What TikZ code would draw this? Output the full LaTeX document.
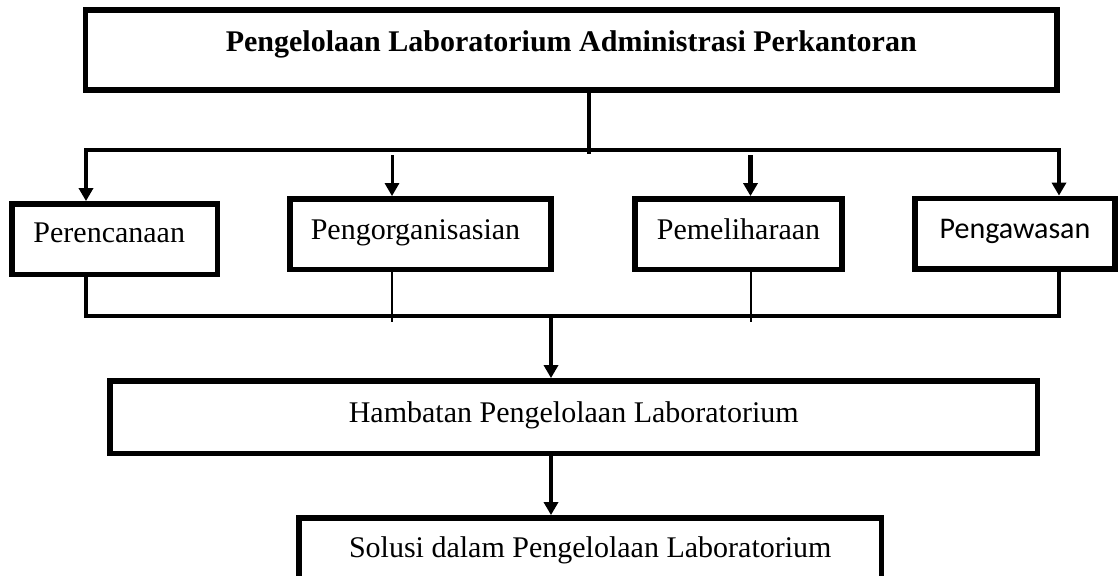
\documentclass[tikz,border=0pt]{standalone}
\usepackage{fontspec}
\setmainfont{Liberation Serif}
\newfontfamily\calibrifont{Carlito}
\usetikzlibrary{arrows.meta}

\begin{document}
\begin{tikzpicture}[
    x=0.5pt, y=-0.5pt,
    box/.style={draw, line width=2.9pt, inner sep=0pt, minimum height=35.25pt,
        font=\fontsize{15pt}{18pt}\selectfont, text depth=5pt},
    bus/.style={line width=2pt},
    flow/.style={line width=1.8pt, -{Triangle[width=7pt, length=6.5pt]}},
    thinline/.style={line width=1pt},
]
\clip (0,0) rectangle (1120,575);

% Boxes
\node[box, minimum width=485.75pt, minimum height=40pt, text depth=9pt,
    font=\fontsize{15pt}{18pt}\selectfont\bfseries] (judul) at (571.25,50)
    {Pengelolaan Laboratorium Administrasi Perkantoran};
\node[box, minimum width=102.75pt, text depth=6.75pt] (perencanaan) at (114.75,239.25) {Perencanaan\hspace*{5.5pt}};
\node[box, minimum width=130.5pt] (pengorganisasian) at (420.5,234.25) {Pengorganisasian\hspace*{5pt}};
\node[box, minimum width=103.5pt] (pemeliharaan) at (738.5,234.25) {Pemeliharaan};
\node[box, minimum width=100pt, font=\fontsize{15pt}{18pt}\calibrifont] (pengawasan) at (1015,233.75) {Pengawasan};
\node[box, minimum width=463.75pt, minimum height=36.25pt, text depth=5.25pt] (hambatan) at (573.75,417.25)
    {Hambatan Pengelolaan Laboratorium};
\node[box, minimum width=291.25pt, minimum height=30.5pt, text depth=1pt] (solusi) at (590.25,548.5)
    {Solusi dalam Pengelolaan Laboratorium};

% Connector points
\coordinate (trunk) at (588.6,154);
\coordinate (busL) at (86,149.5);
\coordinate (busR) at (1059,149.5);
\coordinate (panah2) at (392,155);
\coordinate (panah3) at (750.5,155);
\coordinate (lowL) at (86,316);
\coordinate (lowR) at (1059,316);
\coordinate (garis2) at (392,322);
\coordinate (garis3) at (750.5,322);
\coordinate (tengah) at (551,316);

% Connectors
\draw[bus] (judul.south -| trunk) -- (trunk);
\draw[bus, {Triangle[width=7pt, length=6.5pt]}-{Triangle[width=7pt, length=6.5pt]}]
    (busL |- perencanaan.north) -- (busL) -- (busR) -- (busR |- pengawasan.north);
\draw[flow, line width=1.5pt] (panah2) -- (panah2 |- pengorganisasian.north);
\draw[flow, line width=2.2pt] (panah3) -- (panah3 |- pemeliharaan.north);
\draw[bus] (perencanaan.south -| lowL) -- (lowL) -- (lowR) -- (lowR |- pengawasan.south);
\draw[thinline] (garis2 |- pengorganisasian.south) -- (garis2);
\draw[thinline] (garis3 |- pemeliharaan.south) -- (garis3);
\draw[flow] (tengah) -- (tengah |- hambatan.north);
\draw[flow] (hambatan.south -| tengah) -- (tengah |- solusi.north);

\end{tikzpicture}
\end{document}
